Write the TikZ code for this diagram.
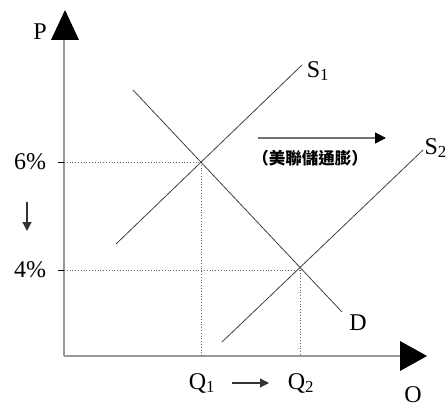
\documentclass[tikz,border=0pt]{standalone}
\usepackage{fontspec}
\setmainfont{Liberation Serif}
\newfontfamily\cjk{Noto Sans CJK TC}
\usetikzlibrary{arrows.meta}
\begin{document}
\begin{tikzpicture}[x=1pt,y=-1pt,
  axis/.style={draw=gray!80, line width=1.6pt},
  curve/.style={draw=black!75, line width=0.8pt},
  guide/.style={draw=black!60, line width=0.8pt, dotted},
  lbl/.style={font=\fontsize{24}{26}\selectfont, inner sep=0pt},
  smallarrow/.style={draw=black!80, line width=1.2pt, -{Triangle[length=9pt,width=9pt]}}]
\useasboundingbox (0,0) rectangle (447,409);
% axes
\coordinate (O) at (64,356);
\coordinate (ytop) at (64,40);
\coordinate (xend) at (400,356);
\draw[axis] (O) -- (ytop);
\draw[axis] (O) -- (xend);
\fill (51,40) -- (65,10) -- (79,40) -- cycle;
\fill (400,341) -- (427,356) -- (400,371) -- cycle;
% ticks and guides
\coordinate (p6) at (64,162);
\coordinate (p4) at (64,270);
\coordinate (e1) at (201,162);
\coordinate (e2) at (300,270);
\coordinate (q1) at (201,356);
\coordinate (q2) at (300,356);
\draw[black, line width=1pt] (58,162) -- (p6);
\draw[black, line width=1pt] (58,270) -- (p4);
\draw[guide] (p6) -- (e1);
\draw[guide] (p4) -- (e2);
\draw[guide] (e1) -- (q1);
\draw[guide] (e2) -- (q2);
% curves
\coordinate (s1a) at (116,244);
\coordinate (s1b) at (302,65);
\coordinate (s2a) at (222,342);
\coordinate (s2b) at (423,150);
\coordinate (da) at (133,90);
\coordinate (db) at (342,312);
\draw[curve] (s1a) -- (s1b);
\draw[curve] (s2a) -- (s2b);
\draw[curve] (da) -- (db);
% labels
\node[lbl] (P) at (40,32) {P};
\node[lbl] (l6) at (30,162) {6\%};
\node[lbl] (l4) at (30,270) {4\%};
\node[lbl] (S1) at (318,71) {S\textsubscript{1}};
\node[lbl, anchor=east] (S2) at (447,148) {S\textsubscript{2}};
\node[lbl] (D) at (358,323) {D};
\node[lbl] (Q1) at (202,383) {Q\textsubscript{1}};
\node[lbl] (Q2) at (301,383) {Q\textsubscript{2}};
\node[lbl] (Oq) at (413,395) {O};
\node[font=\cjk\bfseries\fontsize{16.5}{18}\selectfont, inner sep=0pt] (fed) at (310,158) {（美聯儲通膨）};
% arrows
\coordinate (da1) at (27,202);
\coordinate (da2) at (27,231);
\draw[smallarrow] (da1) -- (da2);
\coordinate (qa1) at (232,383);
\coordinate (qa2) at (269,383);
\draw[smallarrow] (qa1) -- (qa2);
\coordinate (fa1) at (258,138);
\coordinate (fa2) at (386,138);
\draw[draw=gray!90!black, line width=1.6pt, -{Triangle[length=11pt,width=11pt,color=black]}] (fa1) -- (fa2);
\end{tikzpicture}
\end{document}
